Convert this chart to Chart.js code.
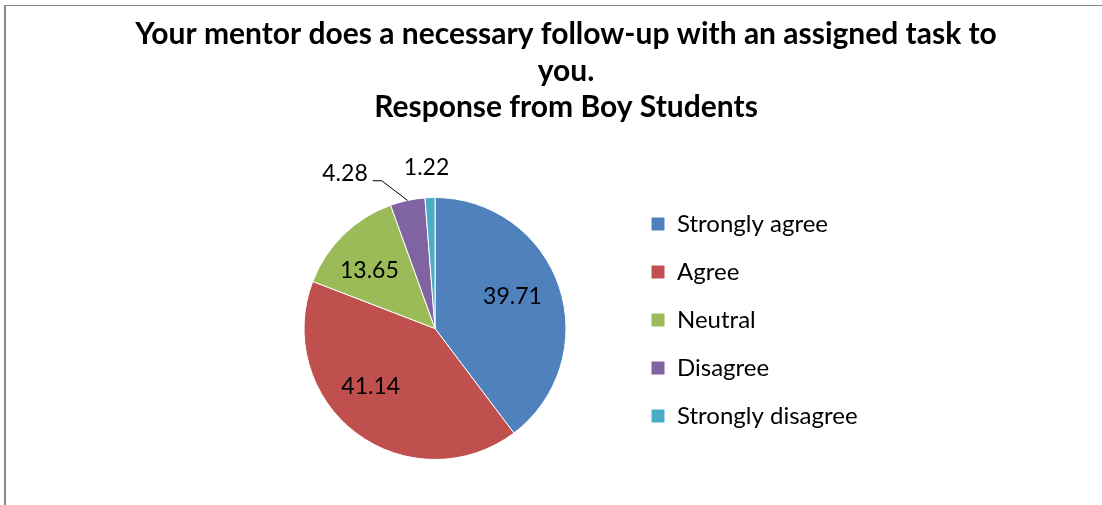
<!DOCTYPE html>
<html>
<head>
<meta charset="utf-8">
<script src="https://cdn.jsdelivr.net/npm/chart.js@4.4.1/dist/chart.umd.min.js"></script>
<style>
  html, body { margin: 0; padding: 0; background: #fff; overflow: hidden; }
  #wrap { position: relative; width: 1102px; height: 505px; overflow: hidden; }
  /* gray frame of the chart area, right and bottom edges are off the picture */
  #frame { position: absolute; left: 4px; top: 5px; width: 1200px; height: 600px;
           border-left: 2px solid #8a8a8a; border-top: 1px solid #8a8a8a; }
  #chart { position: absolute; left: 0; top: 0; }
</style>
</head>
<body>
<div id="wrap">
  <div id="frame"></div>
  <canvas id="chart" width="1102" height="505"></canvas>
</div>
<script>
// data
var categories = ['Strongly agree', 'Agree', 'Neutral', 'Disagree', 'Strongly disagree'];
var percents = [39.71, 41.14, 13.65, 4.28, 1.22];
var sliceColors = ['#4f81bd', '#c0504d', '#9bbb59', '#8064a2', '#4bacc6'];
var titleLines = [
    'Your mentor does a necessary follow-up with an assigned task to',
    'you.',
    'Response from Boy Students'
];

// where the legend should start (left edge of legend box)
var legendLeft = 627;

////title drawn as text lines, Chart.js title would squeeze the long line
var titlePlugin = {
    id: 'titleLines',
    afterDraw: function(chart, args, opts) {
        var c = chart.ctx;
        c.save();
        c.font = opts.font;
        c.fillStyle = opts.color;
        c.textAlign = 'center';
        c.textBaseline = 'alphabetic';
        for (var i = 0; i < opts.lines.length; i++) {
            c.fillText(opts.lines[i], opts.x, opts.firstBaseline + i * opts.lineHeight);
        }
        c.restore();
    }
};

////value labels on the slices (placed from each arc's own angles)
var valueLabelPlugin = {
    id: 'valueLabels',
    afterDatasetsDraw: function(chart, args, opts) {
        var c = chart.ctx;
        var meta = chart.getDatasetMeta(0);
        c.save();
        c.font = opts.font;
        c.fillStyle = opts.color;
        c.strokeStyle = opts.color;
        c.lineWidth = 1;
        c.textAlign = 'center';
        c.textBaseline = 'middle';
        meta.data.forEach(function(arc, i) {
            var p = arc.getProps(['x', 'y', 'startAngle', 'endAngle', 'outerRadius'], true);
            var mid = (p.startAngle + p.endAngle) / 2;
            var a = mid + opts.angleShift[i] * Math.PI / 180;
            var d = p.outerRadius * opts.distance[i];
            var lx = p.x + Math.cos(a) * d;
            var ly = p.y + Math.sin(a) * d;
            var text = chart.data.datasets[0].data[i].toFixed(2);
            c.fillText(text, lx, ly);
            if (opts.leader[i]) {
                var w = c.measureText(text).width;
                var ex = lx + w / 2 + 5;
                var ey = ly + 7.5;
                c.beginPath();
                c.moveTo(p.x + Math.cos(mid) * p.outerRadius, p.y + Math.sin(mid) * p.outerRadius);
                c.lineTo(ex + 9, ey);
                c.lineTo(ex, ey);
                c.stroke();
            }
        });
        c.restore();
    }
};

var ctx = document.getElementById('chart').getContext('2d');
var chart = new Chart(ctx, {
    type: 'pie',
    data: {
        labels: categories,
        datasets: [{
            data: percents,
            backgroundColor: sliceColors,
            borderColor: '#ffffff',
            borderWidth: 1,
            radius: 131
        }]
    },
    options: {
        responsive: false,
        animation: false,
        events: [],
        layout: {
            padding: { left: 243, right: 200, top: 188, bottom: 36 }
        },
        plugins: {
            title: { display: false },
            tooltip: { enabled: false },
            legend: {
                position: 'right',
                align: 'start',
                labels: {
                    color: '#000000',
                    font: { family: 'Lato', size: 24 },
                    boxWidth: 14,
                    boxHeight: 14,
                    padding: 24
                }
            },
            titleLines: {
                lines: titleLines,
                font: 'bold 30px Lato',
                color: '#000000',
                x: 566,
                firstBaseline: 44,
                lineHeight: 36.5
            },
            valueLabels: {
                font: '23px Lato',
                color: '#000000',
                angleShift: [-4, 11, -4, -18, -0.8],
                distance: [0.64, 0.66, 0.67, 1.37, 1.23],
                leader: [false, false, false, true, false]
            }
        }
    },
    plugins: [titlePlugin, valueLabelPlugin]
});

// move the legend so its left edge sits where it should
chart.options.layout.padding.right += chart.legend.left - legendLeft;
chart.update();
</script>
</body>
</html>
